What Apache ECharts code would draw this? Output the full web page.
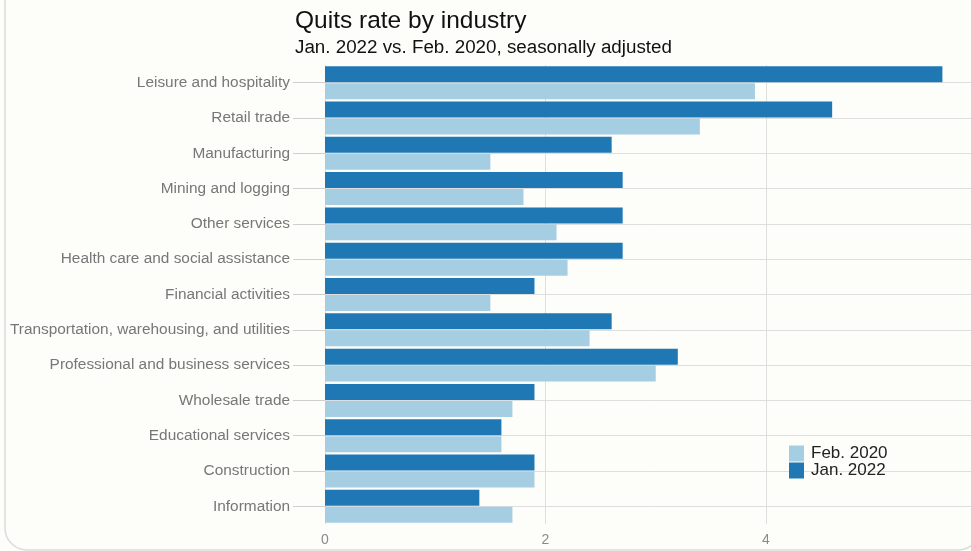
<!DOCTYPE html>
<html>
<head>
<meta charset="utf-8">
<script src="https://cdn.jsdelivr.net/npm/echarts@6/dist/echarts.min.js"></script>
<style>
  html, body { margin: 0; padding: 0; background: #fdfdfa; }
  #chart { width: 971px; height: 551px; }
</style>
</head>
<body>
<div id="chart"></div>
<script>
// Industries, top to bottom
const industries = [
  'Leisure and hospitality',
  'Retail trade',
  'Manufacturing',
  'Mining and logging',
  'Other services',
  'Health care and social assistance',
  'Financial activities',
  'Transportation, warehousing, and utilities',
  'Professional and business services',
  'Wholesale trade',
  'Educational services',
  'Construction',
  'Information'
];

// Quits rate (%) by period
const jan2022 = [5.6, 4.6, 2.6, 2.7, 2.7, 2.7, 1.9, 2.6, 3.2, 1.9, 1.6, 1.9, 1.4];
const feb2020 = [3.9, 3.4, 1.5, 1.8, 2.1, 2.2, 1.5, 2.4, 3.0, 1.7, 1.6, 1.9, 1.7];

const seriesNames = ['Jan. 2022', 'Feb. 2020'];
const legendOrder = ['Feb. 2020', 'Jan. 2022'];

const FONT = '"Liberation Sans", Arial, sans-serif';

const chart = echarts.init(document.getElementById('chart'), null, { renderer: 'canvas' });

chart.setOption({
  backgroundColor: '#fdfdfa',
  animation: false,
  color: ['#1f78b4', '#a6cee3'],
  title: [
    {
      text: 'Quits rate by industry',
      left: 290, top: 4,
      textStyle: { fontFamily: FONT, fontSize: 24.5, fontWeight: 'normal', color: '#111' }
    },
    {
      text: 'Jan. 2022 vs. Feb. 2020, seasonally adjusted',
      left: 290, top: 33,
      textStyle: { fontFamily: FONT, fontSize: 18.8, fontWeight: 'normal', color: '#111' }
    }
  ],
  legend: {
    data: legendOrder,
    orient: 'vertical',
    left: 784, top: 440,
    icon: 'rect',
    itemWidth: 15, itemHeight: 16, itemGap: 0,
    textStyle: { fontFamily: FONT, fontSize: 17, color: '#222', padding: [0, 0, 0, 2] }
  },
  graphic: [
    {
      // card outline around the chart
      type: 'rect',
      silent: true,
      z: -1,
      shape: { x: 5, y: -40, width: 975, height: 590, r: 22 },
      style: { fill: 'none', stroke: '#dcdcdc', lineWidth: 1.5 }
    }
  ],
  grid: { left: 325, top: 65, width: 661.5, height: 459, outerBoundsMode: 'none', containLabel: false },
  xAxis: {
    type: 'value',
    min: 0, max: 6, interval: 2,
    axisLine: { show: false },
    axisTick: { show: false },
    axisLabel: { fontFamily: FONT, fontSize: 14, color: '#8a8a8a', margin: 9 },
    splitLine: { lineStyle: { color: '#dedede', width: 1 } }
  },
  yAxis: {
    type: 'category',
    data: industries,
    inverse: true,
    axisLine: { show: false },
    axisTick: { show: true, alignWithLabel: true, length: 32, lineStyle: { color: '#cfcfcf' } },
    axisLabel: { fontFamily: FONT, fontSize: 15.4, color: '#777', margin: 35 },
    splitLine: { show: true, alignWithLabel: true, lineStyle: { color: '#dedede', width: 1 } }
  },
  series: [
    {
      name: seriesNames[0],
      type: 'bar',
      data: jan2022,
      barWidth: 16,
      barGap: '6%',
      itemStyle: { color: '#1f78b4' }
    },
    {
      name: seriesNames[1],
      type: 'bar',
      data: feb2020,
      barWidth: 16,
      barGap: '6%',
      itemStyle: { color: '#a6cee3' }
    }
  ]
});
</script>
</body>
</html>
